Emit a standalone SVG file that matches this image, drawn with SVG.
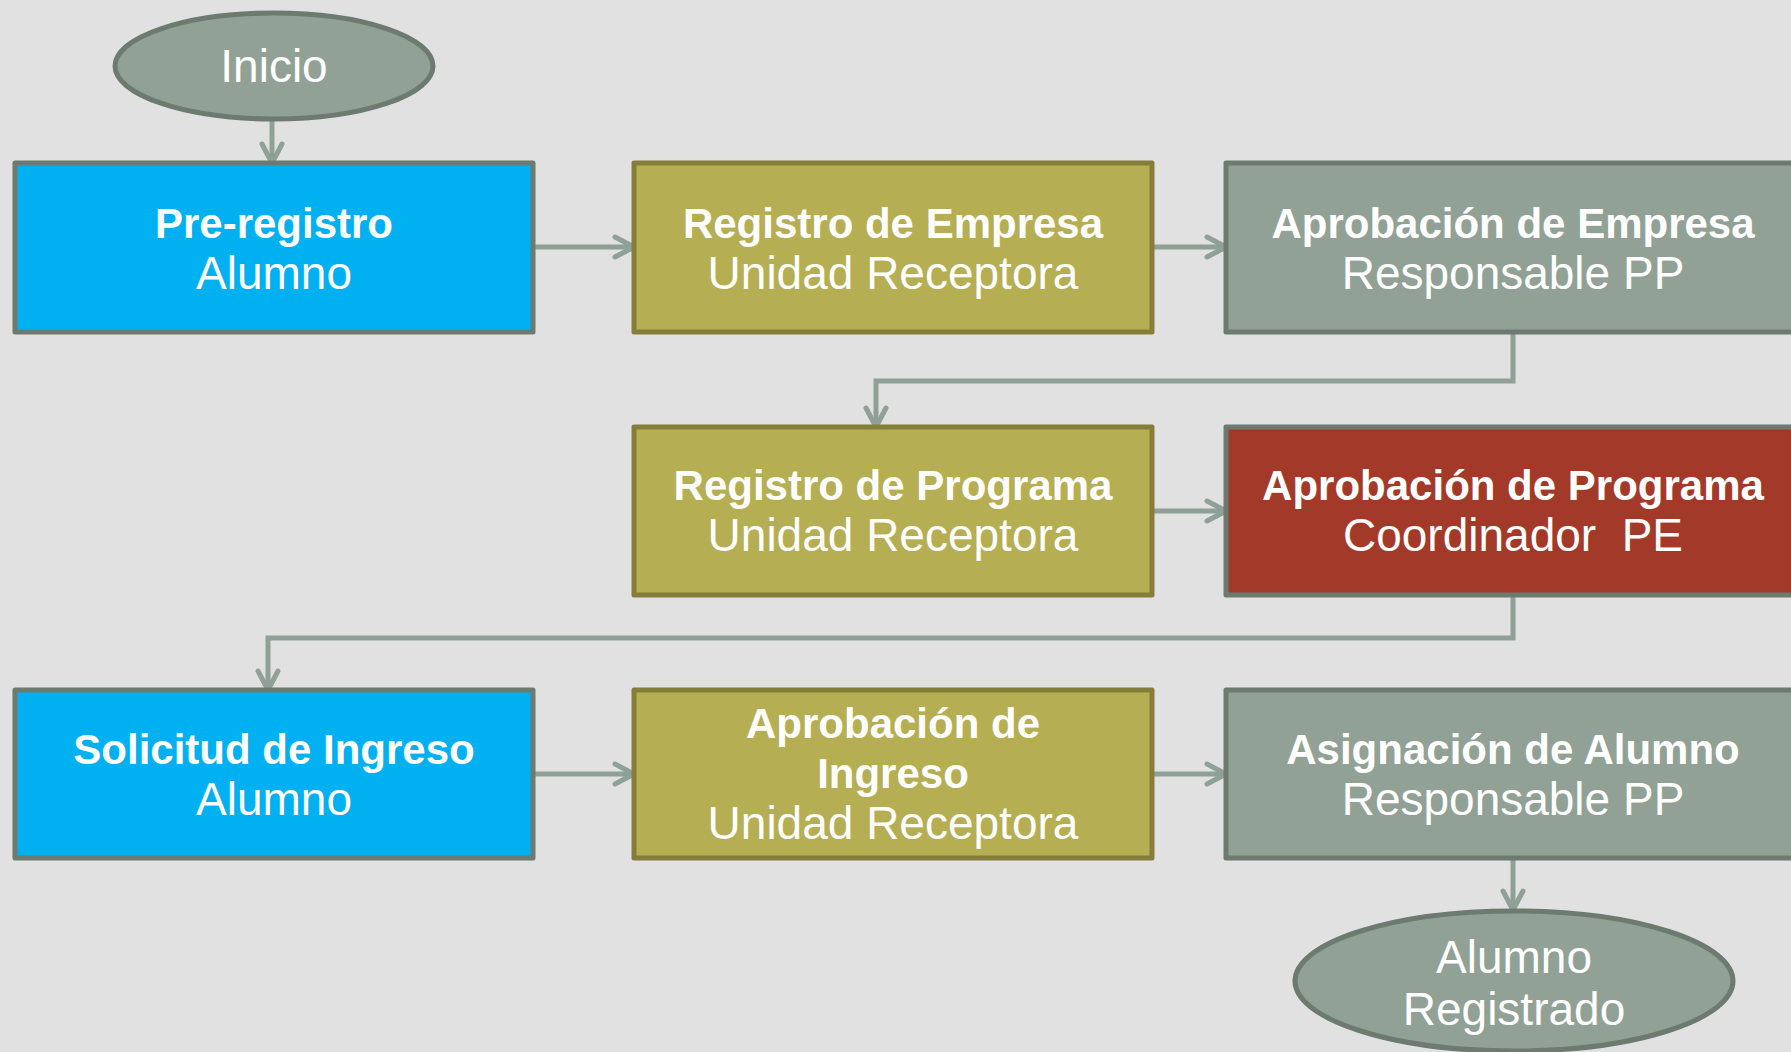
<svg xmlns="http://www.w3.org/2000/svg" width="1791" height="1052" viewBox="0 0 1791 1052">
<style>
.bg{fill:#e1e1e1}
.box{stroke-width:5;stroke-linejoin:round}
.blue{fill:#00b0f0;stroke:#6d7a70}
.olive{fill:#b5ae53;stroke:#857e3a}
.gray{fill:#92a196;stroke:#6d7a70}
.red{fill:#a33a29;stroke:#6d7a70}
.term{fill:#92a196;stroke:#6d7a70;stroke-width:5}
text{fill:#ffffff;font-family:"Liberation Sans",Arial,sans-serif;text-anchor:middle}
.b{font-weight:bold;font-size:42px}
.r{font-size:46px;font-weight:normal}
.conn{fill:none;stroke:#8fa096;stroke-width:5;marker-end:url(#arr)}
</style>
<defs>
<marker id="arr" viewBox="0 0 26 26" refX="23" refY="13" markerWidth="26" markerHeight="26" markerUnits="userSpaceOnUse" orient="auto">
<path d="M4,3 L23,13 L4,23" fill="none" stroke="#8fa096" stroke-width="5" stroke-linecap="round" stroke-linejoin="round"/>
</marker>
</defs>
<rect class="bg" x="0" y="0" width="1791" height="1052"/>

<g id="connectors">
<path class="conn" d="M272,120 L272,163"/>
<path class="conn" d="M533,247 L634,247"/>
<path class="conn" d="M1152,247 L1226,247"/>
<path class="conn" d="M1513,332 L1513,381 L876,381 L876,427"/>
<path class="conn" d="M1152,511 L1226,511"/>
<path class="conn" d="M1513,595 L1513,638 L268,638 L268,690"/>
<path class="conn" d="M533,774 L634,774"/>
<path class="conn" d="M1152,774 L1226,774"/>
<path class="conn" d="M1513,858 L1513,910"/>
</g>

<g id="inicio">
<ellipse class="term" cx="274" cy="66" rx="159" ry="53"/>
<text class="r" x="274" y="82" font-size="44">Inicio</text>
</g>

<g id="preregistro">
<rect class="box blue" x="15" y="163" width="518" height="169"/>
<text class="b" x="274" y="238">Pre-registro</text>
<text class="r" x="274" y="289">Alumno</text>
</g>

<g id="registro-empresa">
<rect class="box olive" x="634" y="163" width="518" height="169"/>
<text class="b" x="893" y="238">Registro de Empresa</text>
<text class="r" x="893" y="289">Unidad Receptora</text>
</g>

<g id="aprobacion-empresa">
<rect class="box gray" x="1226" y="163" width="580" height="169"/>
<text class="b" x="1513" y="238">Aprobación de Empresa</text>
<text class="r" x="1513" y="289">Responsable PP</text>
</g>

<g id="registro-programa">
<rect class="box olive" x="634" y="427" width="518" height="168"/>
<text class="b" x="893" y="500">Registro de Programa</text>
<text class="r" x="893" y="551">Unidad Receptora</text>
</g>

<g id="aprobacion-programa">
<rect class="box red" x="1226" y="427" width="580" height="168"/>
<text class="b" x="1513" y="500">Aprobación de Programa</text>
<text class="r" x="1513" y="551" xml:space="preserve">Coordinador  PE</text>
</g>

<g id="solicitud-ingreso">
<rect class="box blue" x="15" y="690" width="518" height="168"/>
<text class="b" x="274" y="764">Solicitud de Ingreso</text>
<text class="r" x="274" y="815">Alumno</text>
</g>

<g id="aprobacion-ingreso">
<rect class="box olive" x="634" y="690" width="518" height="168"/>
<text class="b" x="893" y="738">Aprobación de</text>
<text class="b" x="893" y="788">Ingreso</text>
<text class="r" x="893" y="839">Unidad Receptora</text>
</g>

<g id="asignacion-alumno">
<rect class="box gray" x="1226" y="690" width="580" height="168"/>
<text class="b" x="1513" y="764">Asignación de Alumno</text>
<text class="r" x="1513" y="815">Responsable PP</text>
</g>

<g id="alumno-registrado">
<ellipse class="term" cx="1514" cy="981" rx="219" ry="70"/>
<text class="r" x="1514" y="973">Alumno</text>
<text class="r" x="1514" y="1025">Registrado</text>
</g>
</svg>
